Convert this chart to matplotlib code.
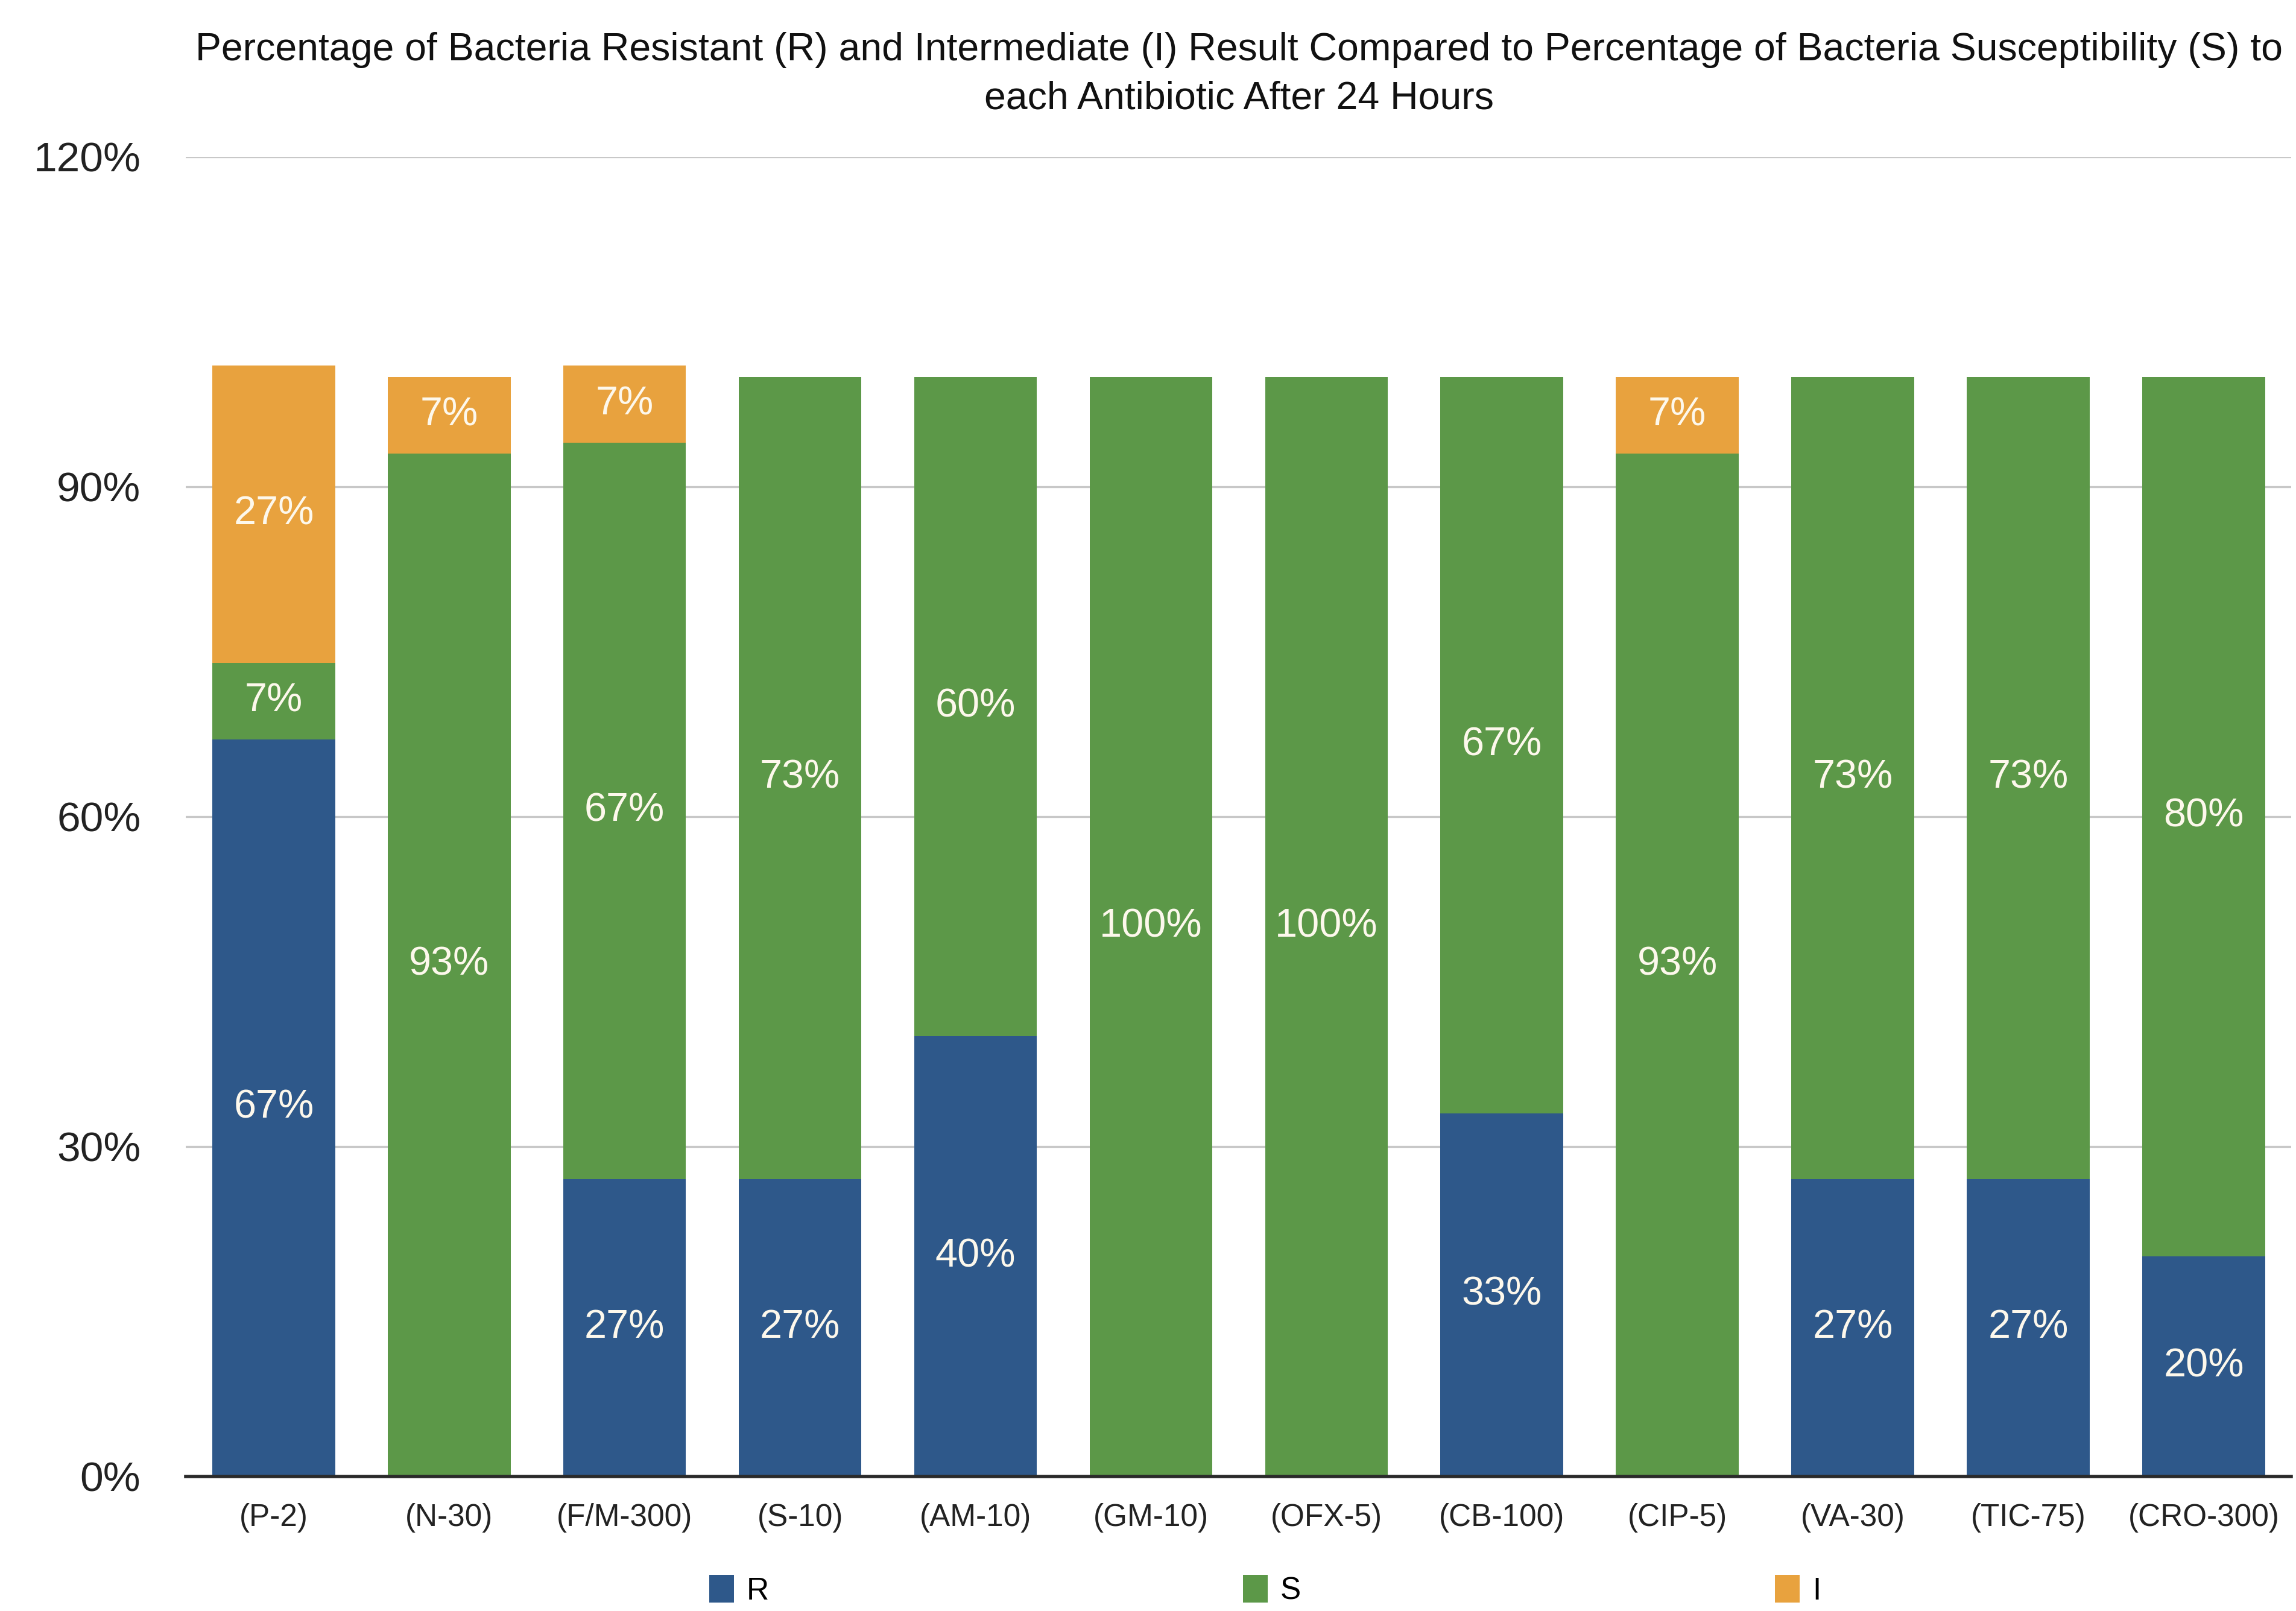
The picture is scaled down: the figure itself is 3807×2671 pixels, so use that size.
import matplotlib
matplotlib.use('Agg')
import matplotlib.pyplot as plt
import numpy as np

plt.rcParams['font.family'] = ['Liberation Sans', 'DejaVu Sans']

# 数据
antibiotics = ['(P-2)', '(N-30)', '(F/M-300)', '(S-10)', '(AM-10)', '(GM-10)',
               '(OFX-5)', '(CB-100)', '(CIP-5)', '(VA-30)', '(TIC-75)', '(CRO-300)']
r_vals = [67, 0, 27, 27, 40, 0, 0, 33, 0, 27, 27, 20]
s_vals = [7, 93, 67, 73, 60, 100, 100, 67, 93, 73, 73, 80]
i_vals = [27, 7, 7, 0, 0, 0, 0, 0, 7, 0, 0, 0]
y_ticks = [0, 30, 60, 90, 120]

COLORS = {'R': '#2E588A', 'S': '#5C9848', 'I': '#E8A23E'}
LABEL_COLOR = '#FDF8EC'

fig = plt.figure(figsize=(19.035, 13.355), dpi=200)
ax = fig.add_axes([0.081, 0.0836, 0.917, 0.8191])

x = np.arange(len(antibiotics))
r = np.array(r_vals)
s = np.array(s_vals)
i = np.array(i_vals)

width = 0.70
bars_r = ax.bar(x, r, width, color=COLORS['R'], label='R', zorder=3)
bars_s = ax.bar(x, s, width, bottom=r, color=COLORS['S'], label='S', zorder=3)
bars_i = ax.bar(x, i, width, bottom=r + s, color=COLORS['I'], label='I', zorder=3)

for bars, vals in [(bars_r, r_vals), (bars_s, s_vals), (bars_i, i_vals)]:
    ax.bar_label(bars, labels=[f'{v}%' if v else '' for v in vals],
                 label_type='center', color=LABEL_COLOR, fontsize=24, zorder=4)

ax.set_xlim(-0.5, len(antibiotics) - 0.5)
ax.set_ylim(0, 120)
ax.set_yticks(y_ticks)
ax.set_yticklabels([f'{t}%' for t in y_ticks], fontsize=25, color='#222222')
ax.set_xticks(x)
ax.set_xticklabels(antibiotics, fontsize=18.5, color='#222222')
ax.tick_params(axis='y', length=0, pad=27)
ax.tick_params(axis='x', length=0, pad=16)

ax.yaxis.grid(True, color='#C8C8C8', linewidth=1.2, zorder=0)
ax.set_axisbelow(True)
for side in ['left', 'right', 'top']:
    ax.spines[side].set_visible(False)
ax.spines['bottom'].set_color('#2A2A2A')
ax.spines['bottom'].set_linewidth(2.0)
ax.spines['bottom'].set_zorder(5)

fig.text(0.5396, 0.98,
         'Percentage of Bacteria Resistant (R) and Intermediate (I) Result Compared to '
         'Percentage of Bacteria Susceptibility (S) to\neach Antibiotic After 24 Hours',
         ha='center', va='top', fontsize=23.2, color='#111111', linespacing=1.43)

fig.legend(loc='upper center', bbox_to_anchor=(0.551, 0.034), ncol=3, frameon=False,
           fontsize=18.5, handlelength=0.8, handleheight=1.0, handletextpad=0.4,
           columnspacing=15.3, borderpad=0.1)

fig.savefig('out.png', dpi=200, facecolor='white')
